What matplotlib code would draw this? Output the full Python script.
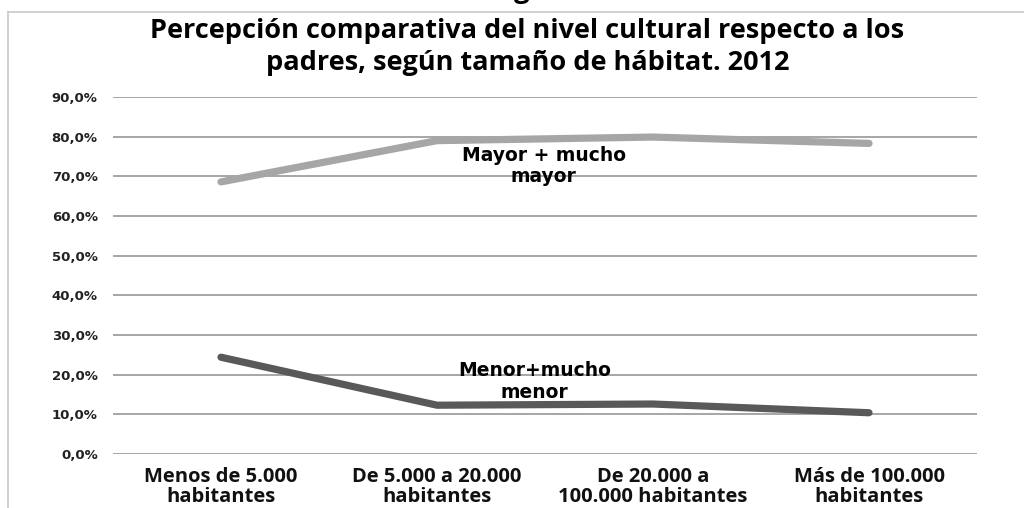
import matplotlib
matplotlib.use("Agg")
import matplotlib.pyplot as plt
from matplotlib.lines import Line2D

# Data
categories = ["Menos de 5.000\nhabitantes", "De 5.000 a 20.000\nhabitantes",
              "De 20.000 a\n100.000 habitantes", "Más de 100.000\nhabitantes"]
mayor = [68.6, 79.0, 79.9, 78.3]
menor = [24.4, 12.3, 12.6, 10.4]
yticks = [0, 10, 20, 30, 40, 50, 60, 70, 80, 90]
title = "Percepción comparativa del nivel cultural respecto a los\npadres, según tamaño de hábitat. 2012"

fig = plt.figure(figsize=(10.24, 5.08), dpi=100)
fig.patch.set_facecolor("white")

# outer frame (left and top edges)
fig.add_artist(Line2D([8/1024, 8/1024], [0, 1 - 12/508], transform=fig.transFigure,
                      color="#c8c8c8", lw=1.2))
fig.add_artist(Line2D([8/1024, 1], [1 - 12/508, 1 - 12/508], transform=fig.transFigure,
                      color="#c8c8c8", lw=1.2))

# descender of the page heading above the frame, mostly outside the canvas
fig.text(522/1024, 1 + 3/508, "g", ha="center", va="baseline", fontsize=20,
         fontweight="bold", family="Open Sans")

ax = fig.add_axes([113/1024, 1 - 454/508, (977 - 113)/1024, (454 - 97)/508])
x = list(range(len(categories)))

ax.set_ylim(0, 90)
ax.set_xlim(-0.5, len(categories) - 0.5)
ax.set_yticks(yticks)
ax.set_yticklabels([f"{v:.1f}%".replace(".", ",") for v in yticks],
                   fontsize=9.5, fontweight="bold", family="DejaVu Sans", color="#222222")
ax.set_xticks(x)
ax.set_xticklabels(categories, fontsize=14.5, fontweight="bold", family="Open Sans",
                   color="#111111", linespacing=1.02)
ax.tick_params(axis="both", length=0)
ax.tick_params(axis="y", pad=11)
ax.tick_params(axis="x", pad=9)
ax.grid(axis="y", color="#a6a6a6", lw=1.4)
ax.set_axisbelow(True)
for s in ax.spines.values():
    s.set_visible(False)

ax.plot(x, mayor, color="#a6a6a6", lw=5.2, solid_capstyle="round", solid_joinstyle="round", zorder=3)
ax.plot(x, menor, color="#595959", lw=5.2, solid_capstyle="round", solid_joinstyle="round", zorder=3)

ax.text(1.495, 72.6, "Mayor + mucho\nmayor", ha="center", va="center", fontsize=13.5,
        fontweight="bold", family="DejaVu Sans", linespacing=1.15, zorder=4)
ax.text(1.45, 18.3, "Menor+mucho\nmenor", ha="center", va="center", fontsize=13.5,
        fontweight="bold", family="DejaVu Sans", linespacing=1.15, zorder=4)

fig.text(0.515, 1 - 47/508, title, ha="center", va="center", fontsize=19.5,
         fontweight="bold", family="Open Sans", linespacing=1.28)

fig.savefig("out.png", dpi=100, facecolor="white")
